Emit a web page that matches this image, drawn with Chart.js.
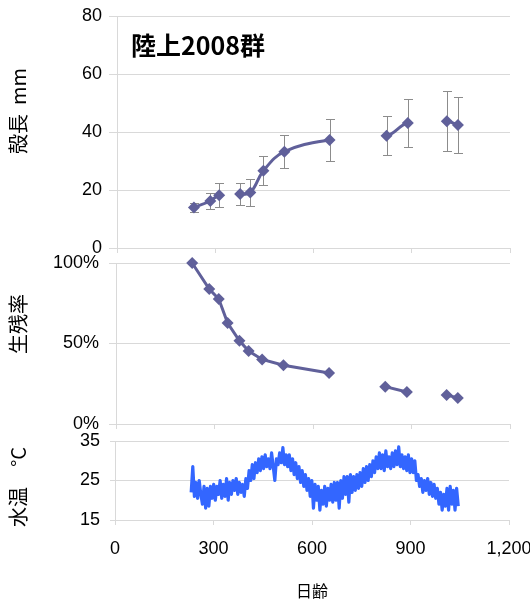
<!DOCTYPE html>
<html lang="ja">
<head>
<meta charset="UTF-8">
<title>陸上2008群</title>
<script src="https://cdn.jsdelivr.net/npm/chart.js"></script>
<style>
  body { margin: 0; background: #fff; }
  #wrap { position: relative; width: 530px; height: 603px; }
  #wrap canvas { position: absolute; left: 0; top: 0; }
</style>
</head>
<body>
<div id="wrap">
  <canvas id="lengthChart" width="530" height="603"></canvas>
  <canvas id="survivalChart" width="530" height="603"></canvas>
  <canvas id="tempChart" width="530" height="603"></canvas>
</div>
<script>
// 殻長 (mm) 平均と標準偏差
const lengthDays = [235, 285, 312, 376, 407, 447, 511, 649, 823, 888, 1007, 1041];
const lengthMean = [14.0, 16.2, 18.2, 18.6, 19.1, 26.6, 33.2, 37.2, 38.7, 43.1, 43.7, 42.4];
const lengthSd = [1.5, 2.8, 4.1, 3.8, 4.6, 5.0, 5.7, 7.2, 6.7, 8.4, 10.4, 9.6];
const lengthGroup = [1, 1, 1, 2, 2, 2, 2, 2, 3, 3, 4, 4];

// 生残率 (%)
const survivalDays = [232, 284, 313, 340, 376, 404, 445, 510, 649, 820, 886, 1007, 1041];
const survivalRate = [100, 83.8, 77.6, 62.7, 51.7, 45.3, 40.1, 36.5, 31.7, 23.2, 19.9, 18.0, 16.2];
const survivalGroup = [1, 1, 1, 1, 1, 1, 1, 1, 1, 2, 2, 3, 3];

// 水温 (°C)
const tempStartDay = 232;
const tempStepDays = 4.9;
const waterTemp = [
  22.0, 28.5, 21.0, 24.5, 20.5, 25.0, 21.5, 19.0, 23.5, 18.0,
  23.0, 18.5, 23.5, 20.5, 24.0, 20.0, 23.5, 21.5, 25.0, 20.5,
  24.0, 21.0, 25.5, 20.0, 24.5, 21.5, 25.0, 22.5, 25.5, 21.5,
  24.5, 22.0, 24.0, 21.0, 25.5, 23.0, 27.5, 25.0, 29.0, 25.5,
  29.5, 27.0, 30.5, 27.5, 31.0, 28.0, 31.5, 28.5, 30.5, 28.0,
  32.0, 28.5, 25.0, 30.5, 29.0, 32.0, 29.5, 33.3, 29.0, 31.5,
  28.5, 31.5, 27.5, 30.5, 26.5, 29.5, 25.5, 28.5, 24.5, 27.5,
  23.5, 26.5, 22.5, 25.5, 21.0, 25.0, 18.0, 24.0, 20.0, 23.5,
  17.5, 22.5, 19.0, 23.5, 18.5, 23.0, 20.0, 24.0, 19.5, 24.5,
  20.0, 24.5, 18.0, 25.0, 20.5, 26.0, 21.5, 26.0, 19.5, 26.5,
  22.0, 26.0, 22.5, 26.5, 23.0, 27.0, 23.5, 28.0, 24.5, 28.5,
  25.0, 29.0, 26.0, 30.0, 27.0, 31.0, 28.0, 32.0, 28.0, 31.5,
  27.5, 32.5, 28.5, 31.0, 28.0, 32.0, 28.5, 32.5, 29.0, 33.5,
  28.5, 31.5, 28.0, 31.0, 27.5, 31.5, 27.0, 30.5, 27.0, 30.0,
  25.0, 26.5, 23.5, 25.5, 22.0, 25.0, 22.5, 25.5, 21.5, 24.5,
  21.0, 24.0, 20.5, 23.0, 19.0, 22.0, 17.5, 21.5, 18.5, 23.0,
  17.5, 23.5, 19.0, 22.5, 17.5, 23.0, 18.5
];

const markColor = '#60609A';
const tempColor = '#3366FF';
const gridColor = '#d9d9d9';
const tickFont = { family: '"Liberation Sans", Arial, sans-serif', size: 18 };
const jpFont = '"Noto Sans CJK JP", sans-serif';

// 文字を描くだけのプラグイン
const textLabels = {
  id: 'textLabels',
  afterDraw(chart, args, opts) {
    const ctx = chart.ctx;
    (opts.items || []).forEach(t => {
      ctx.save();
      ctx.translate(t.x, t.y);
      if (t.rotate) ctx.rotate(t.rotate);
      ctx.font = t.font;
      ctx.fillStyle = '#000';
      ctx.textAlign = t.align || 'center';
      ctx.textBaseline = 'middle';
      ctx.fillText(t.text, 0, 0);
      ctx.restore();
    });
  }
};

// 殻長の誤差範囲
const errorBars = {
  id: 'errorBars',
  beforeDatasetsDraw(chart) {
    const { ctx, scales: { x, y } } = chart;
    ctx.save();
    ctx.strokeStyle = '#8c8c8c';
    ctx.lineWidth = 1;
    lengthDays.forEach((d, i) => {
      const px = Math.round(x.getPixelForValue(d)) + 0.5;
      const top = Math.round(y.getPixelForValue(lengthMean[i] + lengthSd[i])) + 0.5;
      const bot = Math.round(y.getPixelForValue(lengthMean[i] - lengthSd[i])) + 0.5;
      ctx.beginPath();
      ctx.moveTo(px, top); ctx.lineTo(px, bot);
      ctx.moveTo(px - 4.5, top); ctx.lineTo(px + 4.5, top);
      ctx.moveTo(px - 4.5, bot); ctx.lineTo(px + 4.5, bot);
      ctx.stroke();
    });
    ctx.restore();
  }
};

function yAxis(width, min, max, step, tickLen, pad, cb) {
  return {
    min: min, max: max,
    afterFit: s => { s.width = width; s.paddingTop = 0; s.paddingBottom = 0; },
    ticks: { stepSize: step, color: '#000', font: tickFont, padding: pad, callback: cb },
    grid: { color: gridColor, tickLength: tickLen },
    border: { color: gridColor }
  };
}

function xAxis(height, showLabels) {
  return {
    type: 'linear', min: 0, max: 1200,
    afterFit: s => { s.height = height; s.paddingLeft = 0; s.paddingRight = 0; },
    ticks: {
      display: showLabels, stepSize: 300, color: '#000', font: tickFont, padding: 13,
      maxRotation: 0, callback: v => v.toLocaleString('en-US')
    },
    grid: { drawOnChartArea: false, tickLength: 5, color: gridColor },
    border: { color: gridColor }
  };
}

const common = {
  responsive: false,
  animation: false,
  devicePixelRatio: 1
};

// 殻長
new Chart(document.getElementById('lengthChart'), {
  type: 'scatter',
  data: {
    datasets: [{
      data: lengthDays.map((d, i) => ({ x: d, y: lengthMean[i] })),
      showLine: true,
      tension: 0.4,
      clip: false,
      borderColor: markColor,
      backgroundColor: markColor,
      borderWidth: 3,
      pointStyle: 'rectRot',
      pointRadius: 6,
      pointBorderWidth: 0,
      segment: {
        borderColor: c => lengthGroup[c.p0DataIndex] === lengthGroup[c.p1DataIndex] ? markColor : 'transparent'
      }
    }]
  },
  options: {
    ...common,
    layout: { padding: { top: 16, right: 20, bottom: 350, left: 0 } },
    scales: {
      x: xAxis(5, false),
      y: yAxis(117, 0, 80, 20, 8, 7)
    },
    plugins: {
      legend: { display: false },
      tooltip: { enabled: false },
      textLabels: {
        items: [
          { text: '陸上2008群', x: 131, y: 45, align: 'left', font: 'bold 25px ' + jpFont },
          { text: '殻長  mm', x: 18, y: 111, rotate: -Math.PI / 2, font: '20px ' + jpFont }
        ]
      }
    }
  },
  plugins: [errorBars, textLabels]
});

// 生残率
new Chart(document.getElementById('survivalChart'), {
  type: 'scatter',
  data: {
    datasets: [{
      data: survivalDays.map((d, i) => ({ x: d, y: survivalRate[i] })),
      showLine: true,
      tension: 0,
      clip: false,
      borderColor: markColor,
      backgroundColor: markColor,
      borderWidth: 3,
      pointStyle: 'rectRot',
      pointRadius: 6,
      pointBorderWidth: 0,
      segment: {
        borderColor: c => survivalGroup[c.p0DataIndex] === survivalGroup[c.p1DataIndex] ? markColor : 'transparent'
      }
    }]
  },
  options: {
    ...common,
    layout: { padding: { top: 263, right: 20, bottom: 174, left: 0 } },
    scales: {
      x: xAxis(5, false),
      y: yAxis(116, 0, 100, 50, 7, 10, v => v + '%')
    },
    plugins: {
      legend: { display: false },
      tooltip: { enabled: false },
      textLabels: {
        items: [
          { text: '生残率', x: 18, y: 324, rotate: -Math.PI / 2, font: '20px ' + jpFont }
        ]
      }
    }
  },
  plugins: [textLabels]
});

// 水温
const tempX = xAxis(83, true);
tempX.title = { display: true, text: '日齢', color: '#000', font: { family: jpFont, size: 16 }, padding: { top: 0, bottom: 2 } };

new Chart(document.getElementById('tempChart'), {
  type: 'scatter',
  data: {
    datasets: [{
      data: waterTemp.map((t, i) => ({ x: tempStartDay + i * tempStepDays, y: t })),
      showLine: true,
      tension: 0,
      borderColor: tempColor,
      borderWidth: 3.2,
      borderJoinStyle: 'round',
      pointRadius: 0
    }]
  },
  options: {
    ...common,
    layout: { padding: { top: 441, right: 21, bottom: 0, left: 0 } },
    scales: {
      x: tempX,
      y: yAxis(115, 15, 35, 10, 5, 10)
    },
    plugins: {
      legend: { display: false },
      tooltip: { enabled: false },
      textLabels: {
        items: [
          { text: '水温　°C', x: 18, y: 487, rotate: -Math.PI / 2, font: '20px ' + jpFont }
        ]
      }
    }
  },
  plugins: [textLabels]
});
</script>
</body>
</html>
